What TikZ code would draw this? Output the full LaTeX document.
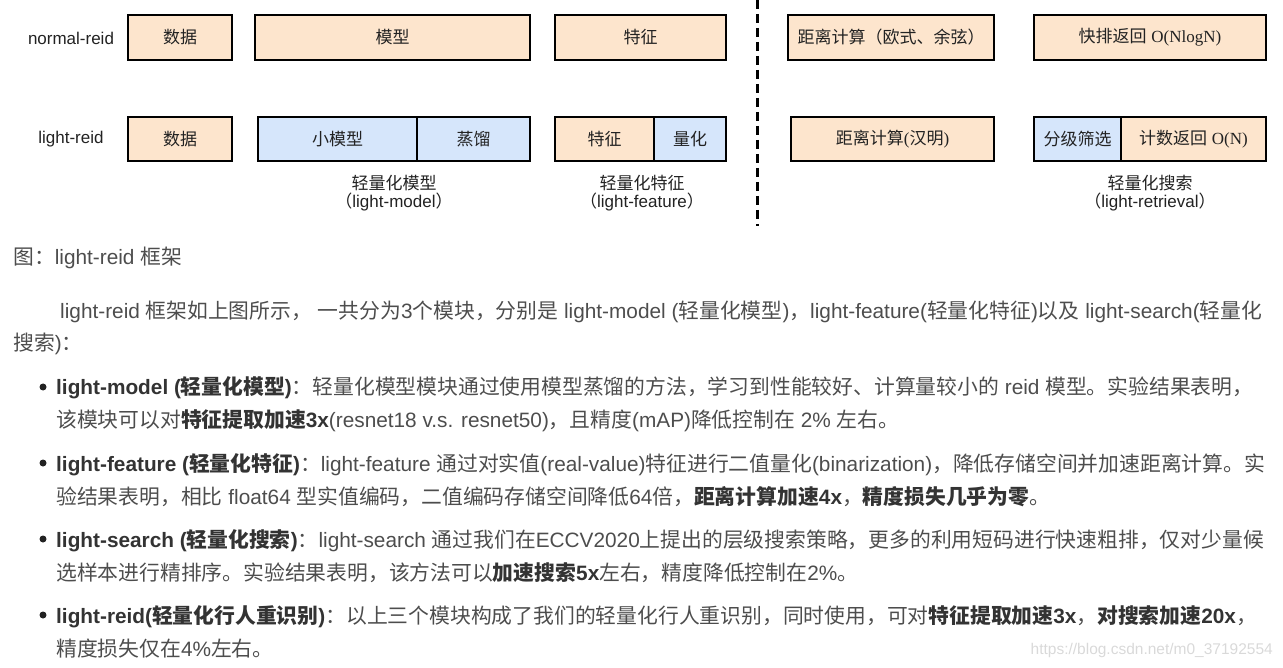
\documentclass[tikz,border=0pt]{standalone}
\usepackage{fontspec}
\setmainfont{Liberation Sans}
\newfontfamily\cjk{Noto Sans CJK SC}
\newfontfamily\serifL{Liberation Serif}
\newXeTeXintercharclass\CJKcls
\newcount\cjkc
\def\setcls#1#2{\cjkc=#1\relax\loop\XeTeXcharclass\cjkc=\CJKcls\relax\ifnum\cjkc<#2\relax\advance\cjkc by 1\repeat}
\setcls{"4E00}{"9FFF}
\setcls{"3000}{"303F}
\setcls{"FF00}{"FFEF}
\XeTeXinterchartoks 0 \CJKcls = {\cjk}
\XeTeXinterchartoks 4095 \CJKcls = {\cjk}
\XeTeXinterchartoks \CJKcls 0 = {\rmfamily}
\XeTeXinterchartoks \CJKcls 4095 = {\rmfamily}
\XeTeXinterchartokenstate=1
\definecolor{peach}{HTML}{FDE5CD}
\definecolor{lblue}{HTML}{D6E6FB}
\definecolor{txt}{HTML}{4D4D4D}
\definecolor{dk}{HTML}{333333}
\definecolor{dg}{HTML}{222222}
\definecolor{wm}{HTML}{D9D9D9}
\newcommand{\bt}[1]{{\color{dk}\bfseries #1}}
\begin{document}
\begin{tikzpicture}[x=1pt,y=-1pt,
  pbox/.style={draw=black, line width=2.4pt, fill=peach, rectangle, inner sep=0pt, text=dg, font=\fontsize{17}{20}\selectfont},
  bbox/.style={pbox, fill=lblue},
  rowlab/.style={inner sep=0pt, text=dg, font=\fontsize{17}{20}\selectfont},
  captext/.style={inner sep=0pt, text=dg, font=\fontsize{17}{20}\selectfont},
  body/.style={anchor=base west, inner sep=0pt, text=txt, font=\fontsize{20.8}{25}\selectfont},
  bul/.style={circle, fill=dg, inner sep=0pt, minimum size=7pt},
  sepline/.style={line width=3pt, dash pattern=on 9pt off 5pt}]
\useasboundingbox (0,0) rectangle (1283,668);

% row labels
\node[rowlab] (lab1) at (71,38.5) {normal-reid};
\node[rowlab] (lab2) at (71,139) {light-reid};

% row 1
\node[pbox, minimum width=104, minimum height=45] (d1) at (180,37.5) {数据};
\node[pbox, minimum width=275, minimum height=45] (m1) at (392.5,37.5) {模型};
\node[pbox, minimum width=171, minimum height=45] (f1) at (640.5,37.5) {特征};
\node[pbox, minimum width=206, minimum height=45] (e1) at (891,37.5) {距离计算（欧式、余弦）};
\node[pbox, minimum width=232, minimum height=45] (s1) at (1150,37.5) {快排返回 {\serifL O(NlogN)}};

% row 2
\node[pbox, minimum width=104, minimum height=44] (d2) at (180,139) {数据};
\node[bbox, minimum width=159, minimum height=44] (sm) at (337.5,139) {小模型};
\node[bbox, minimum width=113, minimum height=44] (kd) at (473.5,139) {蒸馏};
\node[pbox, minimum width=99, minimum height=44] (f2) at (604.5,139) {特征};
\node[bbox, minimum width=72, minimum height=44] (q2) at (690,139) {量化};
\node[pbox, minimum width=203, minimum height=44] (e2) at (892.5,139) {距离计算{\serifL(}汉明{\serifL)}};
\node[bbox, minimum width=87, minimum height=44] (h2) at (1077.5,139) {分级筛选};
\node[pbox, minimum width=145, minimum height=44] (c2) at (1193.5,139) {计数返回 {\serifL O(N)}};

% captions
\node[captext] (cm1) at (394,183) {轻量化模型};
\node[captext] (cm2) at (394,202) {（light-model）};
\node[captext] (cf1) at (642,183) {轻量化特征};
\node[captext] (cf2) at (642,202) {（light-feature）};
\node[captext] (cs1) at (1150,183) {轻量化搜索};
\node[captext] (cs2) at (1150,202) {（light-retrieval）};

% dashed separator
\coordinate (dtop) at (757,0);
\coordinate (dbot) at (757,226);
\draw[sepline] (dtop) -- (dbot);

% text below
\node[body] (t0) at (13,265) {图：light-reid 框架};
\node[body] (t1) at (60,319) {light-reid 框架如上图所示， 一共分为3个模块，分别是 light-model (轻量化模型)，light-feature(轻量化特征)以及 light-search(轻量化};
\node[body] (t2) at (13,351) {搜索)：};

\node[bul] (u1) at (43,387) {};
\node[body] (b1a) at (56,395) {\bt{light-model (轻量化模型)}：轻量化模型模块通过使用模型蒸馏的方法，学习到性能较好、计算量较小的 reid 模型。实验结果表明，};
\node[body] (b1b) at (56,428) {该模块可以对\bt{特征提取加速3x}(resnet18 v.s. resnet50)，且精度(mAP)降低控制在 2\% 左右。};

\node[bul] (u2) at (43,463) {};
\node[body] (b2a) at (56,471) {\bt{light-feature (轻量化特征)}：light-feature 通过对实值(real-value)特征进行二值量化(binarization)，降低存储空间并加速距离计算。实};
\node[body] (b2b) at (56,504) {验结果表明，相比 float64 型实值编码，二值编码存储空间降低64倍，\bt{距离计算加速4x}，\bt{精度损失几乎为零}。};

\node[bul] (u3) at (43,539) {};
\node[body] (b3a) at (56,547) {\bt{light-search (轻量化搜索)}：light-search 通过我们在ECCV2020上提出的层级搜索策略，更多的利用短码进行快速粗排，仅对少量候};
\node[body] (b3b) at (56,580) {选样本进行精排序。实验结果表明，该方法可以\bt{加速搜索5x}左右，精度降低控制在2\%。};

\node[bul] (u4) at (43,615) {};
\node[body] (b4a) at (56,623) {\bt{light-reid(轻量化行人重识别)}：以上三个模块构成了我们的轻量化行人重识别，同时使用，可对\bt{特征提取加速3x}，\bt{对搜索加速20x}，};
\node[body] (b4b) at (56,656) {精度损失仅在4\%左右。};

\node[anchor=base east, inner sep=0pt, text=wm, font=\fontsize{15.5}{18}\selectfont] (wmk) at (1273,654) {https://blog.csdn.net/m0\_37192554};
\end{tikzpicture}
\end{document}
